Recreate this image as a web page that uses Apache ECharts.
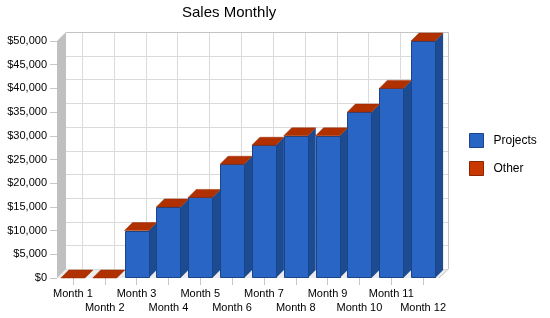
<!DOCTYPE html>
<html>
<head>
<meta charset="utf-8">
<script src="https://cdn.jsdelivr.net/npm/echarts@6/dist/echarts.min.js"></script>
<style>
  html, body { margin: 0; padding: 0; background: #fff; }
  #chart { width: 550px; height: 318px; }
</style>
</head>
<body>
<div id="chart"></div>
<script>
var months = ['Month 1', 'Month 2', 'Month 3', 'Month 4', 'Month 5', 'Month 6',
              'Month 7', 'Month 8', 'Month 9', 'Month 10', 'Month 11', 'Month 12'];
var projects = [0, 0, 10000, 15000, 17000, 24000, 28000, 30000, 30000, 35000, 40000, 50000];
var other = [0, 0, 0, 0, 0, 0, 0, 0, 0, 0, 0, 0];
var yTicks = [0, 5000, 10000, 15000, 20000, 25000, 30000, 35000, 40000, 45000, 50000];

var FONT = 'Liberation Sans, Arial, sans-serif';
var WALL = 9;   // depth of the walls
var DEPTH = 8;  // depth of the bars
var BAR_RATIO = 0.755;

function px(v) { return Math.round(v) + 0.5; }

// walls, floor and back wall grid
function renderFrame(params, api) {
    var cs = params.coordSys;
    var x0 = cs.x, x1 = cs.x + cs.width, yt = cs.y, yb = cs.y + cs.height;
    var kids = [];
    kids.push({
        type: 'polygon',
        shape: { points: [[x0 + WALL, yb - WALL], [x1 + WALL, yb - WALL], [x1, yb], [x0, yb]] },
        style: { fill: '#ececec' }
    });
    yTicks.forEach(function (v) {
        var y = px(api.coord([0, v])[1] - WALL);
        kids.push({ type: 'line', shape: { x1: x0 + WALL, y1: y, x2: x1 + WALL, y2: y },
            style: { stroke: '#dadada', lineWidth: 1 } });
    });
    months.forEach(function (m, i) {
        var x = px(api.coord([i, 0])[0] + WALL);
        kids.push({ type: 'line', shape: { x1: x, y1: yt - WALL, x2: x, y2: yb - WALL },
            style: { stroke: '#dadada', lineWidth: 1 } });
    });
    // back wall border top/right
    kids.push({ type: 'polyline',
        shape: { points: [[x0 + WALL, px(yt - WALL)], [px(x1 + WALL), px(yt - WALL)], [px(x1 + WALL), yb - WALL], [x1, yb]] },
        style: { stroke: '#c4c4c4', lineWidth: 1, fill: null } });
    // left wall
    kids.push({
        type: 'polygon',
        shape: { points: [[x0, yt], [x0 + WALL, yt - WALL], [x0 + WALL, yb - WALL], [x0, yb]] },
        style: { fill: '#c0c0c0' }
    });
    return { type: 'group', children: kids };
}

function barBox(api, i, from, to) {
    var c = api.coord([i, from]);
    var t = api.coord([i, to]);
    var bw = api.size([1, 0])[0] * BAR_RATIO;
    return { xl: c[0] - bw / 2, xr: c[0] + bw / 2, yb: c[1], yt: t[1] };
}

function renderProjects(params, api) {
    var i = api.value(0), v = api.value(1);
    if (!v) return { type: 'group', children: [] };
    var b = barBox(api, i, 0, v);
    return {
        type: 'group',
        children: [
            { type: 'polygon',
              shape: { points: [[b.xr, b.yt], [b.xr + DEPTH, b.yt - DEPTH], [b.xr + DEPTH, b.yb - DEPTH], [b.xr, b.yb]] },
              style: { fill: '#1d4b91' } },
            { type: 'rect',
              shape: { x: px(b.xl), y: px(b.yt), width: Math.round(b.xr - b.xl), height: Math.round(b.yb - b.yt) - 1 },
              style: { fill: '#2865c4', stroke: '#1c4488', lineWidth: 1 } }
        ]
    };
}

function renderOther(params, api) {
    var i = api.value(0), v = api.value(1);
    var base = projects[i];
    var b = barBox(api, i, base, base + v);
    var kids = [];
    if (v) {
        kids.push({ type: 'polygon',
            shape: { points: [[b.xr, b.yt], [b.xr + DEPTH, b.yt - DEPTH], [b.xr + DEPTH, b.yb - DEPTH], [b.xr, b.yb]] },
            style: { fill: '#8a2600' } });
        kids.push({ type: 'rect',
            shape: { x: b.xl, y: b.yt, width: b.xr - b.xl, height: b.yb - b.yt },
            style: { fill: '#c03400' } });
    }
    kids.push({ type: 'polygon',
        shape: { points: [[b.xl, b.yt], [b.xl + DEPTH, b.yt - DEPTH], [b.xr + DEPTH, b.yt - DEPTH], [b.xr, b.yt]] },
        style: { fill: '#b03000', stroke: '#9c2a00', lineWidth: 0.5 } });
    return { type: 'group', children: kids };
}

var chart = echarts.init(document.getElementById('chart'));
var option = {
    animation: false,
    textStyle: { fontFamily: FONT },
    title: {
        text: 'Sales Monthly',
        left: 177,
        top: 0,
        textStyle: { fontSize: 15, fontWeight: 'normal', color: '#000', fontFamily: FONT }
    },
    legend: {
        orient: 'vertical',
        left: 464,
        top: 128,
        itemWidth: 14,
        itemHeight: 14,
        itemGap: 13,
        icon: 'rect',
        textStyle: { fontSize: 12, color: '#000', fontFamily: FONT, padding: [0, 0, 0, 5] },
        data: [
            { name: 'Projects', itemStyle: { color: '#2865c4', borderColor: '#1c4488', borderWidth: 1 } },
            { name: 'Other', itemStyle: { color: '#c83800', borderColor: '#8a2600', borderWidth: 1 } }
        ]
    },
    grid: { left: 57, right: 111, top: 41, bottom: 40 },
    xAxis: {
        type: 'category',
        data: months,
        axisLine: { show: false },
        axisTick: { show: true, alignWithLabel: true, length: 7, lineStyle: { color: '#c8c8c8' } },
        axisLabel: {
            interval: 0,
            margin: 9,
            fontSize: 11,
            lineHeight: 14,
            color: '#000',
            fontFamily: FONT,
            formatter: function (value, index) { return index % 2 ? '\n' + value : value; }
        },
        splitLine: { show: false }
    },
    yAxis: {
        type: 'value',
        min: 0,
        max: 50000,
        interval: 5000,
        axisLine: { show: false },
        axisTick: { show: true, length: 7, lineStyle: { color: '#c8c8c8' } },
        axisLabel: {
            margin: 10,
            fontSize: 11,
            color: '#000',
            fontFamily: FONT,
            formatter: function (v) { return '$' + v.toLocaleString('en-US'); }
        },
        splitLine: { show: false }
    },
    series: [
        {
            name: 'frame',
            type: 'custom',
            z: 1,
            silent: true,
            renderItem: renderFrame,
            data: [[0, 0]],
            encode: { x: 0, y: 1 }
        },
        {
            name: 'Projects',
            type: 'custom',
            z: 2,
            itemStyle: { color: '#2865c4' },
            renderItem: renderProjects,
            data: projects.map(function (v, i) { return [i, v]; }),
            encode: { x: 0, y: 1 }
        },
        {
            name: 'Other',
            type: 'custom',
            z: 3,
            itemStyle: { color: '#c83800' },
            renderItem: renderOther,
            data: other.map(function (v, i) { return [i, v]; }),
            encode: { x: 0, y: 1 }
        }
    ]
};
chart.setOption(option);
</script>
</body>
</html>
